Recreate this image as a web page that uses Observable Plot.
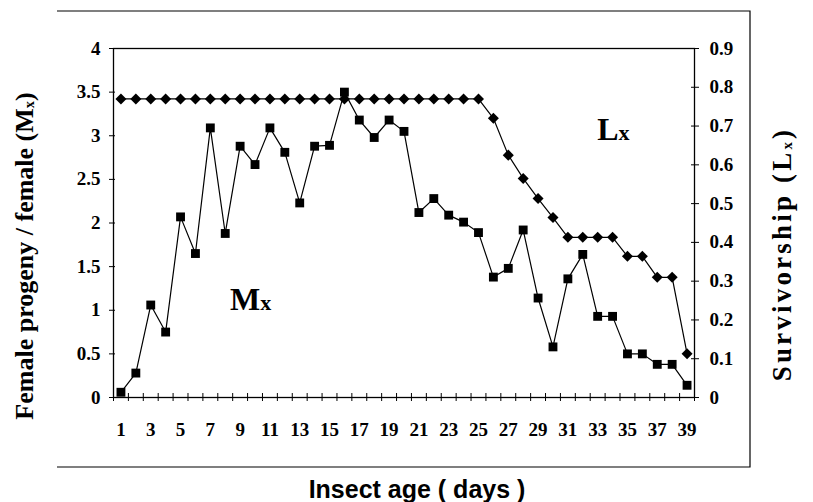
<!DOCTYPE html>
<html><head><meta charset="utf-8">
<script src="https://cdn.jsdelivr.net/npm/d3@7"></script>
<script src="https://cdn.jsdelivr.net/npm/@observablehq/plot@0.6"></script>
<style>
body{margin:0;background:#fff}
#chart g[aria-label$="tick label"] text { font-size: 19px !important; font-weight: bold !important; font-family: 'Liberation Serif', 'Times New Roman', serif !important; }
</style>
</head><body><div id="chart"></div>
<script>
// ---- data ----
const days = [1,2,3,4,5,6,7,8,9,10,11,12,13,14,15,16,17,18,19,20,21,22,23,24,25,26,27,28,29,30,31,32,33,34,35,36,37,38,39];
const mx = [0.06,0.28,1.06,0.75,2.07,1.65,3.09,1.88,2.88,2.67,3.09,2.81,2.23,2.88,2.89,3.50,3.18,2.98,3.18,3.05,2.12,2.28,2.09,2.01,1.89,1.38,1.48,1.92,1.14,0.58,1.36,1.64,0.93,0.93,0.50,0.50,0.38,0.38,0.14];
const lx = [0.77,0.77,0.77,0.77,0.77,0.77,0.77,0.77,0.77,0.77,0.77,0.77,0.77,0.77,0.77,0.77,0.77,0.77,0.77,0.77,0.77,0.77,0.77,0.77,0.77,0.72,0.625,0.565,0.513,0.464,0.413,0.413,0.413,0.413,0.364,0.364,0.31,0.31,0.113];
const xTickDays = [1,3,5,7,9,11,13,15,17,19,21,23,25,27,29,31,33,35,37,39];
const leftTicks = [0,0.5,1,1.5,2,2.5,3,3.5,4];
const leftTickLabels = ["0","0.5","1","1.5","2","2.5","3","3.5","4"];
const rightTicks = [0,0.1,0.2,0.3,0.4,0.5,0.6,0.7,0.8,0.9];
const rightTickLabels = ["0","0.1","0.2","0.3","0.4","0.5","0.6","0.7","0.8","0.9"];
const leftMax = 4, rightMax = 0.9;

// ---- derived ----
const k = leftMax / rightMax;
const rows = days.map((d, i) => ({day: d, mx: mx[i], lx: lx[i] * k}));
const boundaries = days.map(d => d - 0.5).concat([days[days.length - 1] + 0.5]);
const rightTicksScaled = rightTicks.map(v => v * k);

const diamond = {
  draw(context, size) {
    const r = Math.sqrt(size / 2);
    context.moveTo(0, -r);
    context.lineTo(r, 0);
    context.lineTo(0, r);
    context.lineTo(-r, 0);
    context.closePath();
  }
};

const serif = "'Liberation Serif', 'Times New Roman', serif";
const tickFont = {fontSize: 19, fontWeight: "bold", fontFamily: serif};

const plot = Plot.plot({
  width: 813, height: 502,
  marginLeft: 113, marginRight: 119, marginTop: 48, marginBottom: 105,
  style: {fontFamily: serif, fontSize: "19px", fontWeight: "bold", background: "#fff", color: "#000", overflow: "visible"},
  x: {domain: [boundaries[0], boundaries[boundaries.length - 1]]},
  y: {domain: [0, leftMax]},
  marks: [
    Plot.frame({stroke: "#000", strokeWidth: 1.3}),
    Plot.axisX(boundaries, {tickSize: 8, dy: -4, tickFormat: () => "", label: null, strokeWidth: 1}),
    Plot.axisX(xTickDays, {tickSize: 0, tickPadding: 25, tickFormat: d => String(d), label: null, ...tickFont}),
    Plot.axisY(leftTicks, {anchor: "left", tickSize: 6, dx: 2, tickPadding: 9, tickFormat: (d, i) => leftTickLabels[i], label: null, ...tickFont}),
    Plot.axisY(rightTicksScaled, {anchor: "right", tickSize: 8, dx: -4, tickFormat: () => "", label: null}),
    Plot.axisY(rightTicksScaled, {anchor: "right", tickSize: 0, tickPadding: 15, tickFormat: (d, i) => rightTickLabels[i], label: null, ...tickFont}),
    Plot.line(rows, {x: "day", y: "mx", stroke: "#000", strokeWidth: 1.2}),
    Plot.line(rows, {x: "day", y: "lx", stroke: "#000", strokeWidth: 1.2}),
    Plot.dot(rows, {x: "day", y: "mx", symbol: "square", r: 5, fill: "#000", stroke: "none"}),
    Plot.dot(rows, {x: "day", y: "lx", symbol: diamond, r: 4.4, fill: "#000", stroke: "none"})
  ]
});

const svg = d3.select(plot);
const sx = plot.scale("x"), sy = plot.scale("y");

// outer box (top, right, bottom)
const box = {x0: 57, x1: 750, y0: 11, y1: 467};
svg.append("path")
  .attr("d", `M${box.x0},${box.y0}H${box.x1}V${box.y1}H${box.x0}`)
  .attr("fill", "none").attr("stroke", "#000").attr("stroke-width", 1.2);

// in-plot series labels
function seriesLabel(day, val, big, small) {
  const t = svg.append("text")
    .attr("x", sx.apply(day)).attr("y", sy.apply(val))
    .attr("text-anchor", "start")
    .attr("font-family", serif).attr("font-weight", "bold").attr("font-size", 32);
  t.append("tspan").text(big);
  t.append("tspan").attr("font-size", 22).text(small);
}
seriesLabel(8.35, 1.0, "M", "x");
seriesLabel(33.0, 2.95, "L", "x");

// axis titles
function vTitle(x, y, size, spacing, main, sub) {
  const t = svg.append("text")
    .attr("transform", `translate(${x},${y}) rotate(-90)`)
    .attr("text-anchor", "middle").attr("dominant-baseline", "central")
    .attr("letter-spacing", spacing)
    .attr("font-family", serif).attr("font-weight", "bold").attr("font-size", size);
  t.append("tspan").text(main);
  t.append("tspan").attr("font-size", size * 0.55).attr("dy", size * 0.2).text(sub);
  t.append("tspan").attr("dy", -size * 0.2).text(")");
}
vTitle(24, 256, 26, 0, "Female progeny / female (M", "x");
vTitle(782, 254, 27, 3.2, "Survivorship (L", "x");

svg.append("text")
  .attr("x", 417).attr("y", 498)
  .attr("text-anchor", "middle")
  .attr("font-family", "'Liberation Sans', Arial, sans-serif").attr("font-weight", "bold").attr("font-size", 25)
  .text("Insect age ( days )");

document.getElementById("chart").append(plot);
</script>
</body></html>
